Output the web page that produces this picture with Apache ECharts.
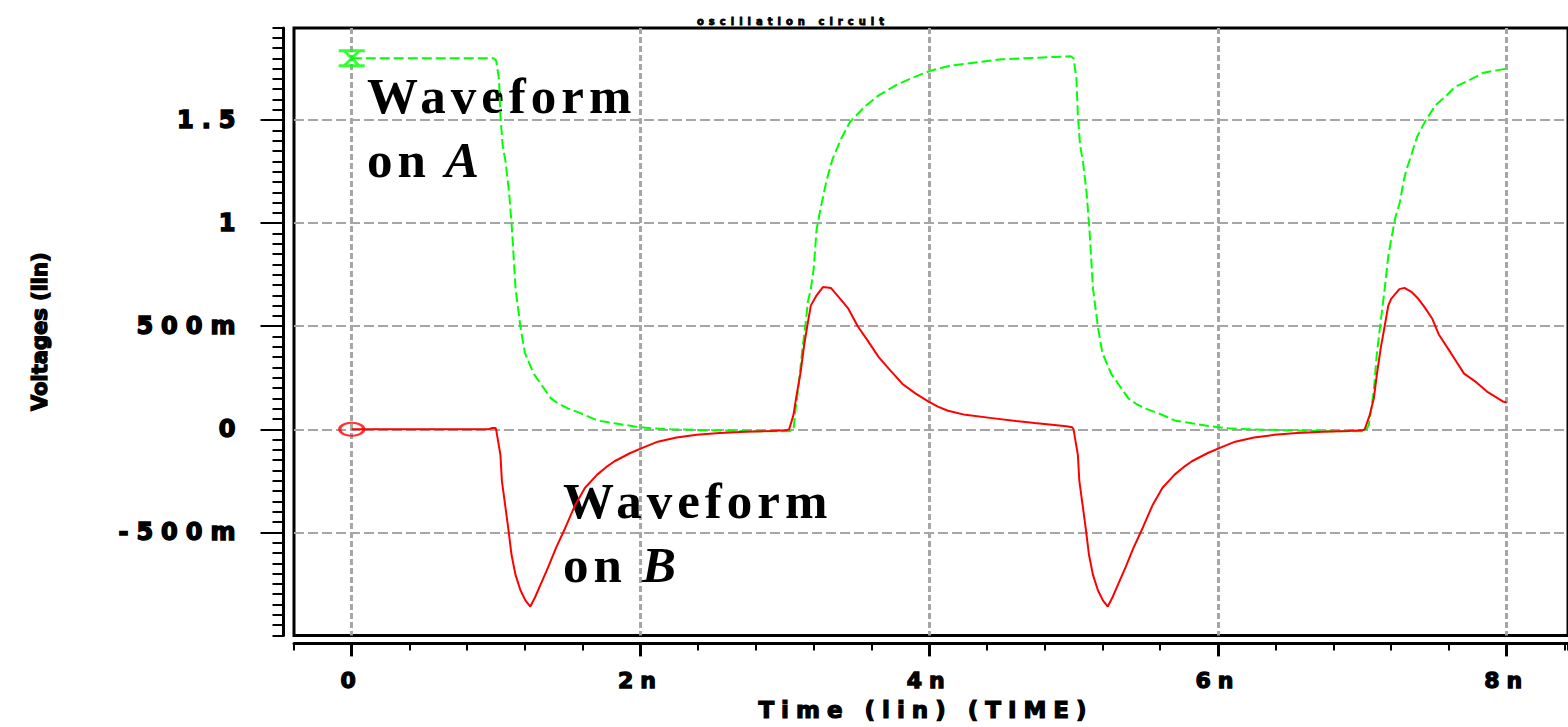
<!DOCTYPE html>
<html><head><meta charset="utf-8">
<script src="https://cdn.jsdelivr.net/npm/echarts@6/dist/echarts.min.js"></script>
<style>
html,body{margin:0;padding:0;background:#fff;}
#chart{width:1568px;height:727px;}
#chart text[style*="Liberation Serif"]{letter-spacing:5px;}
#chart text[style*="ls8"]{letter-spacing:8px;}
#chart text[style*="ls6"]{letter-spacing:6px;}
#chart text[style*="ls7"]{letter-spacing:7px;}
#chart text[style*="ls5"]{letter-spacing:5px;}
</style></head><body><div id="chart"></div>
<script>
// Waveform on A (green)
const timeA = [0, 0.98, 1.00, 1.02, 1.03, 1.045, 1.065, 1.09, 1.11, 1.135, 1.17, 1.20, 1.26, 1.33, 1.38, 1.43, 1.50, 1.59, 1.70, 1.82, 1.96, 2.07, 2.21, 2.5, 2.8, 3.03,
  3.06, 3.075, 3.095, 3.12, 3.14, 3.16, 3.18, 3.20, 3.22, 3.25, 3.29, 3.33, 3.39, 3.45, 3.56, 3.65, 3.77, 3.9, 4.01, 4.15, 4.32, 4.5, 4.66, 4.98,
  5.0, 5.02, 5.03, 5.045, 5.065, 5.09, 5.11, 5.135, 5.17, 5.20, 5.26, 5.33, 5.38, 5.43, 5.50, 5.59, 5.70, 5.82, 5.96, 6.07, 6.21, 6.5, 6.8, 7.02,
  7.045, 7.079, 7.10, 7.127, 7.155, 7.18, 7.20, 7.23, 7.26, 7.285, 7.306, 7.33, 7.38, 7.44, 7.51, 7.57, 7.64, 7.73, 7.84, 7.96, 8.0];
const voltA = [1.80, 1.80, 1.79, 1.70, 1.52, 1.38, 1.30, 1.15, 0.97, 0.68, 0.49, 0.37, 0.27, 0.20, 0.15, 0.125, 0.10, 0.077, 0.043, 0.029, 0.014, 0.005, 0.0, -0.005, -0.01, -0.01,
  0.0, 0.10, 0.21, 0.38, 0.49, 0.62, 0.68, 0.78, 0.97, 1.08, 1.21, 1.31, 1.41, 1.49, 1.57, 1.62, 1.67, 1.71, 1.74, 1.765, 1.78, 1.795, 1.80, 1.81,
  1.80, 1.70, 1.52, 1.38, 1.30, 1.15, 0.97, 0.68, 0.49, 0.37, 0.27, 0.20, 0.15, 0.125, 0.10, 0.077, 0.043, 0.029, 0.014, 0.005, 0.0, -0.005, -0.01, -0.01,
  0.02, 0.18, 0.36, 0.52, 0.68, 0.84, 0.92, 1.03, 1.10, 1.20, 1.26, 1.31, 1.42, 1.50, 1.575, 1.61, 1.66, 1.69, 1.73, 1.745, 1.75];
// Waveform on B (red)
const timeB = [0, 0.95, 0.97, 0.995, 1.0, 1.03, 1.04, 1.065, 1.086, 1.107, 1.134, 1.168, 1.203, 1.237, 1.27, 1.31, 1.36, 1.415, 1.478, 1.546, 1.615, 1.70, 1.76, 1.82, 1.93, 2.03, 2.12, 2.25, 2.39, 2.55, 2.73, 2.9, 3.01,
  3.03, 3.06, 3.08, 3.11, 3.134, 3.16, 3.18, 3.22, 3.264, 3.32, 3.375, 3.44, 3.505, 3.574, 3.65, 3.732, 3.815, 3.904, 3.993, 4.06, 4.13, 4.25, 4.45, 4.6, 4.73, 4.85, 4.95, 4.99,
  5.0, 5.03, 5.04, 5.065, 5.086, 5.107, 5.134, 5.168, 5.203, 5.237, 5.27, 5.31, 5.36, 5.415, 5.478, 5.546, 5.615, 5.70, 5.76, 5.82, 5.93, 6.03, 6.12, 6.25, 6.39, 6.55, 6.73, 6.9, 7.0,
  7.017, 7.052, 7.08, 7.10, 7.127, 7.155, 7.18, 7.20, 7.257, 7.292, 7.34, 7.388, 7.43, 7.485, 7.53, 7.595, 7.65, 7.705, 7.787, 7.87, 7.973, 8.0];
const voltB = [0, 0, 0.006, 0.006, 0.0, -0.125, -0.25, -0.38, -0.49, -0.61, -0.705, -0.78, -0.83, -0.86, -0.815, -0.75, -0.67, -0.575, -0.48, -0.37, -0.285, -0.22, -0.185, -0.155, -0.115, -0.085, -0.06, -0.04, -0.027, -0.018, -0.012, -0.008, -0.005,
  0.0, 0.07, 0.16, 0.28, 0.41, 0.52, 0.60, 0.65, 0.69, 0.685, 0.64, 0.585, 0.50, 0.43, 0.35, 0.285, 0.22, 0.174, 0.135, 0.11, 0.09, 0.07, 0.053, 0.04, 0.03, 0.022, 0.015, 0.01,
  0.0, -0.125, -0.25, -0.38, -0.49, -0.61, -0.705, -0.78, -0.83, -0.86, -0.815, -0.75, -0.67, -0.575, -0.48, -0.37, -0.285, -0.22, -0.185, -0.155, -0.115, -0.085, -0.06, -0.04, -0.027, -0.018, -0.012, -0.008, -0.005,
  0.0, 0.07, 0.15, 0.26, 0.39, 0.50, 0.60, 0.633, 0.68, 0.686, 0.667, 0.633, 0.594, 0.536, 0.46, 0.39, 0.33, 0.27, 0.23, 0.18, 0.135, 0.13];

const xTickValues = [0, 2, 4, 6, 8];
const xTickLabels = ['0', '2n', '4n', '6n', '8n'];
const yTickValues = [-0.5, 0, 0.5, 1, 1.5];
const yTickLabels = ['-500m', '0', '500m', '1', '1.5'];

function labelFor(values, labels) {
  return function (v) {
    for (let i = 0; i < values.length; i++) if (Math.abs(values[i] - v) < 1e-6) return labels[i];
    return '';
  };
}

const chart = echarts.init(document.getElementById('chart'), null, {renderer: 'svg', width: 1568, height: 727});
const X_MIN = -0.4, X_MAX = 8.425, Y_MIN = -1, Y_MAX = 1.947;
const option = {
  animation: false,
  backgroundColor: '#fff',
  title: {text: 'oscillation circuit', left: 692, top: 11,
    textStyle: {fontSize: 10, fontWeight: 'bold', fontFamily: '"DejaVu Sans", ls5', color: '#000',
      textBorderColor: '#000', textBorderWidth: 0.8}},
  grid: {left: 294, top: 28, right: -10, bottom: 89, show: true, borderColor: '#000', borderWidth: 3},
  xAxis: [
    {type: 'value', min: X_MIN, max: X_MAX, interval: 0.4, position: 'bottom', offset: 8,
      axisLine: {show: true, onZero: false, lineStyle: {color: '#000', width: 3}},
      axisTick: {show: true, length: 7, lineStyle: {color: '#000', width: 2}},
      axisLabel: {show: false}, splitLine: {show: false},
      name: 'Time (lin) (TIME)', nameLocation: 'middle', nameGap: 55,
      nameTextStyle: {fontSize: 23, fontWeight: 'bold', fontFamily: '"DejaVu Sans", ls7', color: '#000', padding: [0, 10, 0, 0],
        textBorderColor: '#000', textBorderWidth: 1.2}},
    {type: 'value', min: X_MIN, max: X_MAX, position: 'bottom', offset: 8,
      axisLine: {show: false, onZero: false},
      axisTick: {show: true, length: 13, customValues: xTickValues, lineStyle: {color: '#000', width: 3}},
      axisLabel: {show: true, customValues: xTickValues, margin: 26, formatter: labelFor(xTickValues, xTickLabels),
        fontSize: 22, fontWeight: 'bold', fontFamily: '"DejaVu Sans", ls7', color: '#000',
        textBorderColor: '#000', textBorderWidth: 1.3},
      splitLine: {show: true, lineStyle: {color: '#a6a6a6', type: [6, 3], width: 3}}}
  ],
  yAxis: [
    {type: 'value', min: Y_MIN, max: Y_MAX, interval: 0.05, position: 'left', offset: 10.5,
      axisLine: {show: true, onZero: false, lineStyle: {color: '#000', width: 3}},
      axisTick: {show: true, length: 11, lineStyle: {color: '#000', width: 2}},
      axisLabel: {show: false}, splitLine: {show: false},
      name: 'Voltages (lin)', nameLocation: 'middle', nameRotate: 90, nameGap: 233,
      nameTextStyle: {fontSize: 21, fontWeight: 'bold', fontFamily: '"DejaVu Sans", ls0', color: '#000',
        textBorderColor: '#000', textBorderWidth: 1.3}},
    {type: 'value', min: Y_MIN, max: Y_MAX, position: 'left', offset: 10.5,
      axisLine: {show: false, onZero: false},
      axisTick: {show: true, length: 23, customValues: yTickValues, lineStyle: {color: '#000', width: 2}},
      axisLabel: {show: true, customValues: yTickValues, margin: 40, formatter: labelFor(yTickValues, yTickLabels),
        fontSize: 24, fontWeight: 'bold', fontFamily: '"DejaVu Sans", ls8', color: '#000',
        textBorderColor: '#000', textBorderWidth: 1.5},
      splitLine: {show: true, lineStyle: {color: '#a6a6a6', type: [10, 4], width: 2}}}
  ],
  graphic: [
    {type: 'text', x: 367, y: 96, z: 1, style: {text: 'Waveform', fontSize: 51, fontWeight: 'bold', fontFamily: '"Liberation Serif", serif', fill: '#000', align: 'left', verticalAlign: 'middle'}},
    {type: 'text', x: 367, y: 160, z: 1, style: {text: 'on', fontSize: 51, fontWeight: 'bold', fontFamily: '"Liberation Serif", serif', fill: '#000', align: 'left', verticalAlign: 'middle'}},
    {type: 'text', x: 445, y: 160, z: 1, style: {text: 'A', fontSize: 51, fontWeight: 'bold', fontStyle: 'italic', fontFamily: '"Liberation Serif", serif', fill: '#000', align: 'left', verticalAlign: 'middle'}},
    {type: 'text', x: 563, y: 501, z: 1, style: {text: 'Waveform', fontSize: 51, fontWeight: 'bold', fontFamily: '"Liberation Serif", serif', fill: '#000', align: 'left', verticalAlign: 'middle'}},
    {type: 'text', x: 563, y: 565, z: 1, style: {text: 'on', fontSize: 51, fontWeight: 'bold', fontFamily: '"Liberation Serif", serif', fill: '#000', align: 'left', verticalAlign: 'middle'}},
    {type: 'text', x: 642, y: 565, z: 1, style: {text: 'B', fontSize: 51, fontWeight: 'bold', fontStyle: 'italic', fontFamily: '"Liberation Serif", serif', fill: '#000', align: 'left', verticalAlign: 'middle'}}
  ],
  series: [
    {type: 'line', name: 'A', xAxisIndex: 0, yAxisIndex: 0, data: timeA.map((t, i) => [t, voltA[i]]),
      symbol: 'none', showSymbol: false, silent: true, z: 3,
      lineStyle: {color: '#00ff00', width: 2, type: [10, 4]}},
    {type: 'line', name: 'B', xAxisIndex: 0, yAxisIndex: 0, data: timeB.map((t, i) => [t, voltB[i]]),
      symbol: 'none', showSymbol: false, silent: true, z: 4,
      lineStyle: {color: '#ff0000', width: 2}},
    {type: 'scatter', xAxisIndex: 0, yAxisIndex: 0, data: [[timeA[0], voltA[0]]], silent: true, z: 5,
      symbol: 'path://M0,0 H26 V3 H0 Z M0,15 H26 V18 H0 Z M5,3 H9 L21,15 H17 Z M17,3 H21 L9,15 H5 Z',
      symbolSize: [26, 18], itemStyle: {color: '#00ff00'}},
    {type: 'scatter', xAxisIndex: 0, yAxisIndex: 0, data: [[timeB[0], voltB[0]]], silent: true, z: 5,
      symbol: 'circle', symbolSize: [24, 13],
      itemStyle: {color: 'rgba(0,0,0,0)', borderColor: '#ff0000', borderWidth: 2.5}}
  ]
};
chart.setOption(option);
</script></body></html>
